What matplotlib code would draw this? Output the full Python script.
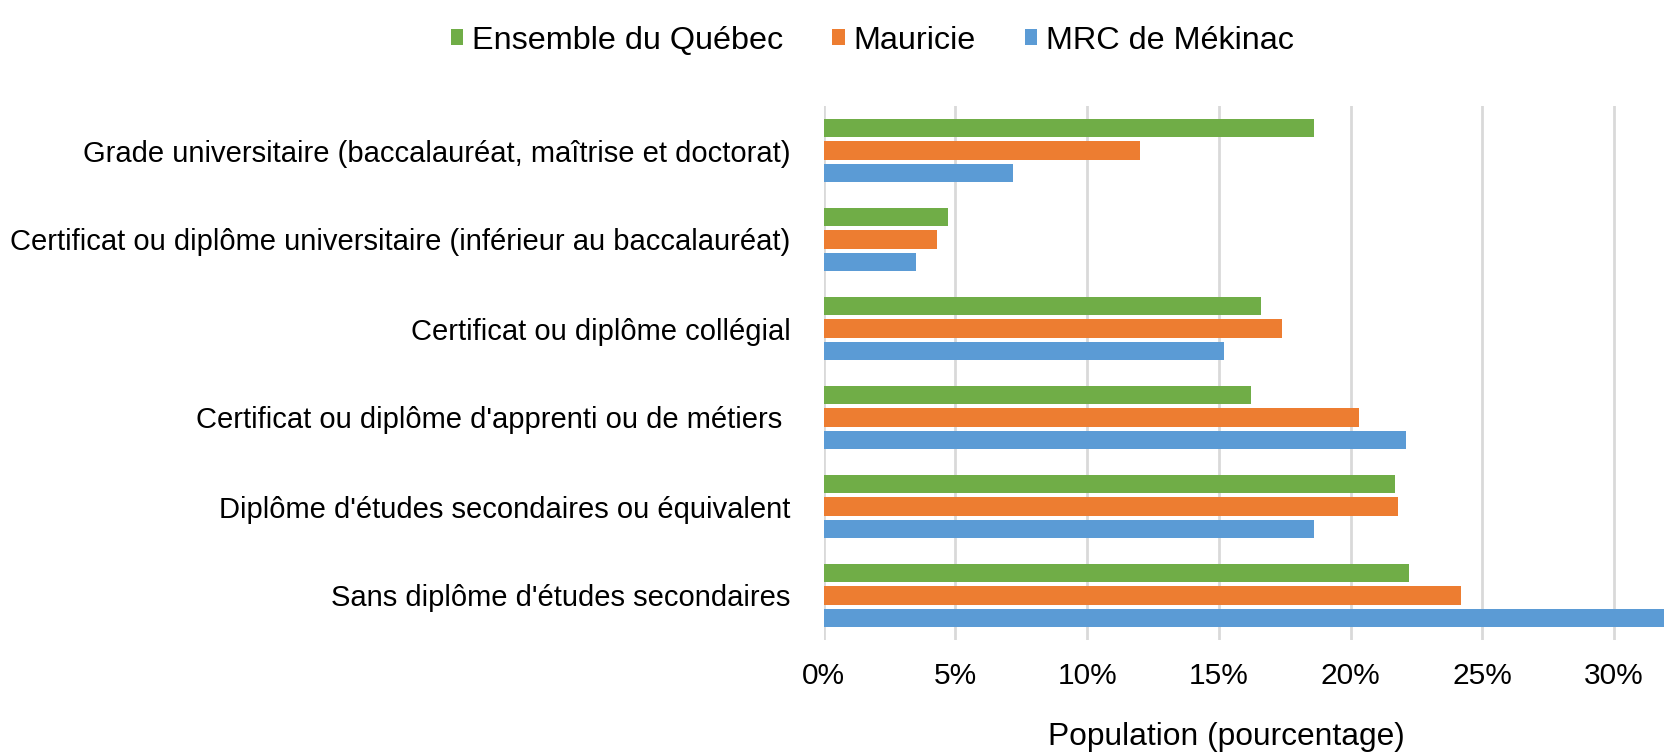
import matplotlib
matplotlib.use("Agg")
import matplotlib.pyplot as plt
from matplotlib.patches import Patch
from matplotlib.ticker import FuncFormatter

plt.rcParams['font.family'] = ['Liberation Sans', 'DejaVu Sans']

categories = [
    "Grade universitaire (baccalauréat, maîtrise et doctorat)",
    "Certificat ou diplôme universitaire (inférieur au baccalauréat)",
    "Certificat ou diplôme collégial",
    "Certificat ou diplôme d'apprenti ou de métiers ",
    "Diplôme d'études secondaires ou équivalent",
    "Sans diplôme d'études secondaires",
]
series_names = ["Ensemble du Québec", "Mauricie", "MRC de Mékinac"]
quebec = [18.6, 4.7, 16.6, 16.2, 21.7, 22.2]
mauricie = [12.0, 4.3, 17.4, 20.3, 21.8, 24.2]
mekinac = [7.2, 3.5, 15.2, 22.1, 18.6, 33.0]
xticks = [0, 5, 10, 15, 20, 25, 30]
colors = ["#70AD47", "#ED7D31", "#5B9BD5"]

W, H = 1665, 753
fig = plt.figure(figsize=(W / 100, H / 100), dpi=100)
ax = fig.add_axes([823.7 / W, 1 - 640 / H, 1 - 823.7 / W, 534 / H])

ypos = list(range(len(categories)))
offsets = [-0.25, 0.0, 0.25]
for vals, off, col in zip([quebec, mauricie, mekinac], offsets, colors):
    ax.barh([y + off for y in ypos], vals, height=0.205, color=col, zorder=3)

ax.set_xlim(0, 31.93)
ax.set_ylim(5.5, -0.5)
ax.set_xticks(xticks)
ax.xaxis.set_major_formatter(FuncFormatter(lambda v, p: f"{v:.0f}%"))
ax.set_yticks(ypos)
ax.set_yticklabels(categories)
ax.grid(axis='x', color='#D9D9D9', linewidth=2, zorder=0)
for s in ax.spines.values():
    s.set_visible(False)
ax.tick_params(axis='both', length=0, labelsize=21, colors='black')
ax.tick_params(axis='x', pad=16, labelsize=21.5)
ax.tick_params(axis='y', pad=24)

fig.text(1226.5 / W, 1 - 737 / H, "Population (pourcentage)", ha='center', va='center', fontsize=22.9)

handles = [Patch(facecolor=c, edgecolor='none') for c in colors]
fig.legend(handles, series_names, loc='center', bbox_to_anchor=(0.524, 1 - 41 / H), ncol=3,
           frameon=False, fontsize=23.3, handlelength=0.39, handleheight=0.39,
           handletextpad=0.28, columnspacing=1.5, borderaxespad=0)

fig.savefig("out.png", dpi=100)
